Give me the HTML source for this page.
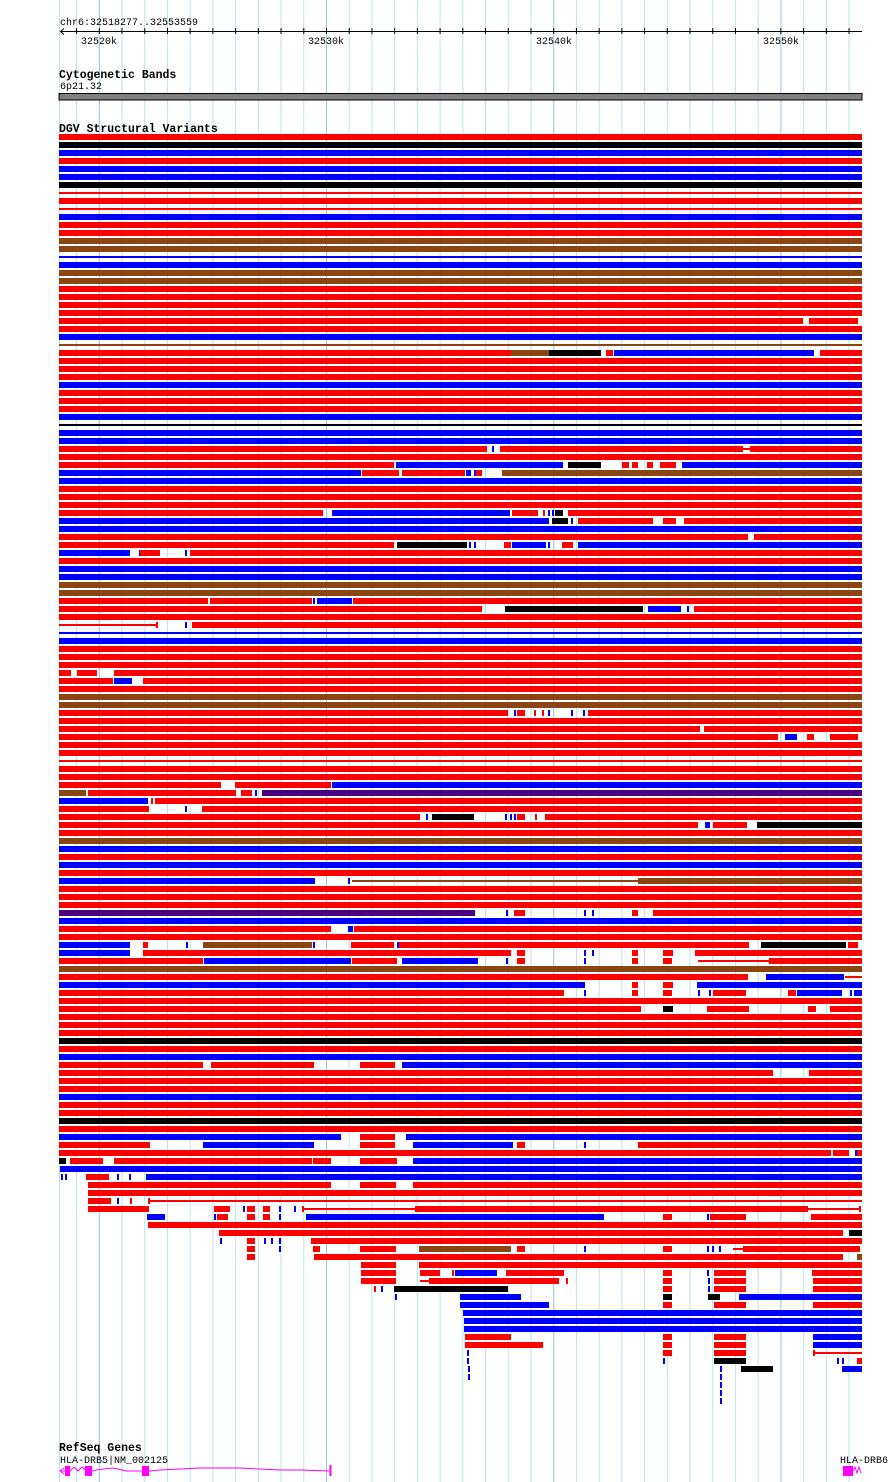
<!DOCTYPE html>
<html><head><meta charset="utf-8"><style>
html,body{margin:0;padding:0;background:#fff;}
svg{display:block;}
text{font-family:"Liberation Mono","DejaVu Sans Mono",monospace;}
</style></head><body>
<svg id="s" width="890" height="1482" viewBox="0 0 890 1482" xmlns="http://www.w3.org/2000/svg">
<g id="grid"></g>
<text x="60" y="25" font-size="10">chr6:32518277..32553559</text>
<line x1="60" y1="31.5" x2="862" y2="31.5" stroke="#000" stroke-width="1"/>
<path d="M64 28.5 L60.5 31.5 L64 34.5" fill="none" stroke="#000"/>
<g id="ticks"></g>
<text x="99" y="44" font-size="10" text-anchor="middle">32520k</text>
<text x="326" y="44" font-size="10" text-anchor="middle">32530k</text>
<text x="554" y="44" font-size="10" text-anchor="middle">32540k</text>
<text x="781" y="44" font-size="10" text-anchor="middle">32550k</text>
<text x="59" y="78" font-size="11.5" font-weight="bold">Cytogenetic Bands</text>
<text x="60" y="89" font-size="10">6p21.32</text>
<rect x="59" y="93.5" width="803" height="6.5" fill="#808080" stroke="#000" stroke-width="1"/>
<text x="59" y="132" font-size="11.5" font-weight="bold">DGV Structural Variants</text>
<g id="rows"></g>
<text x="59" y="1451" font-size="11.5" font-weight="bold">RefSeq Genes</text>
<text x="60" y="1463" font-size="10">HLA-DRB5|NM_002125</text>
<text x="840" y="1463" font-size="10">HLA-DRB6</text>
<g fill="#ff00ff" stroke="#ff00ff">
<path d="M60 1471 L64 1468 M60 1471 L64 1474" fill="none"/>
<polyline points="60,1471 70,1471 74,1467 78,1471 82,1467 86,1471 92,1471 96,1470 104,1469 112,1468 118,1469 126,1471 142,1471 149,1471 160,1470 180,1469 200,1468 220,1468 240,1468 260,1469 280,1470 300,1470 330,1471" fill="none" stroke-width="1"/>
<rect x="65" y="1466" width="5" height="10" stroke="none"/>
<rect x="85" y="1466" width="7" height="10" stroke="none"/>
<rect x="142" y="1466" width="7" height="10" stroke="none"/>
<rect x="329.5" y="1465" width="2" height="11" stroke="none"/>
<rect x="843" y="1466" width="10" height="10" stroke="none"/>
<polyline points="853,1471 855,1467 857,1473 859,1467 861,1473" fill="none"/>
</g>
</svg>
<script>
(function(){
var NS="http://www.w3.org/2000/svg";
function el(p,n,a){var e=document.createElementNS(NS,n);for(var k in a)e.setAttribute(k,a[k]);p.appendChild(e);return e;}
var g=document.getElementById("grid"),t=document.getElementById("ticks");
el(g,"line",{x1:59.5,y1:0,x2:59.5,y2:1482,stroke:"#b4e6f0"});
for(var i=-1;i<34;i++){var x=99.3+22.72*i;if(x<62||x>866)continue;var maj=(i%10==0);
el(g,"line",{x1:x,y1:0,x2:x,y2:1482,stroke:maj?"#8cc8e8":"#b4e6f0","stroke-width":1});
el(t,"line",{x1:x,y1:28,x2:x,y2:34,stroke:"#000"});}
var C={R:"#ff0000",B:"#0000ff",K:"#000000",N:"#8b4513",P:"#4b0082"};
var rows=[
"R","K","B","R","B","B","K","Rt","R","Rt","B","R","R","N","N","Bt","B","N","N","R","R","R","R",
"R59-803 R809-858","R","B","Nt",
"R59-511 N511-549 K549-601 R606-613 B614-814 R820-862",
"R","R","R","B","R","R","R","B","Kt","B","B",
"R59-487 b492 R500-508 R508-743 Rt743-750 R750-862",
"R",
"R59-394 B396-563 K568-601 R622-629 R632-638 R647-653 R660-676 B682-862",
"B59-361 R362-399 R402-465 B466-471 b474 R476-482 N502-862",
"B","R","R","R",
"R59-323 B332-510 R512-538 r543 b548 b552 K555-563 R568-862",
"B59-549 K552-568 b571 R578-653 R663-676 R684-862",
"B",
"R59-748 R754-862",
"R59-394 K397-467 b469 b474 R504-511 B512-546 b548 R562-573 B578-862",
"B59-130 b139 R140-160 b185 R190-862",
"R","B","B","N","N",
"R59-208 R210-312 b313 B317-352 R353-862",
"R59-482 K505-643 B648-681 b687 R694-862",
"R",
"Rt59-157 r156 b185 R192-862",
"Bt","B","R","R","R",
"R59-71 R77-97 R114-862",
"R59-113 B114-132 R143-862",
"R","N","N",
"R59-508 b514 R517-525 r534 r542 b548 b571 b583 R588-862",
"R",
"R59-700 R704-862",
"R59-778 B785-797 R807-814 R830-858",
"R","R","Rt","R","R",
"R59-221 R235-331 B332-862",
"N59-86 R88-236 R241-252 b255 P262-862",
"B59-148 r151 R155-862",
"R59-149 b185 R202-862",
"R59-420 b426 K432-474 b505 b510 b514 R517-525 r535 R545-862",
"R59-698 B705-710 R713-747 K757-862",
"R","N","B","R","B","R",
"B59-315 b348 Nt352-638 N638-862",
"R","R","R",
"P59-475 b506 R514-525 b584 b592 R632-638 R653-862",
"B",
"R59-331 B348-353 R354-862",
"R",
"B59-130 R143-148 b186 N203-312 b313 R351-394 b397 R399-749 K761-846 R848-858",
"B59-130 R143-511 R517-525 b584 b592 R632-638 R663-673 R695-862",
"R59-203 B204-351 R352-397 B402-478 b506 R517-525 b584 R632-638 R663-672 Rt698-769 R769-862",
"N",
"R59-748 B766-844 Rt845-862",
"B59-585 R632-638 R663-673 B697-862",
"R59-564 b584 R632-638 R663-672 b698 b709 R713-746 R788-796 B797-842 b850 B854-862",
"R",
"R59-641 K663-673 R707-749 R808-816 R830-862",
"R","R","R","K","R","B",
"R59-203 R211-314 R360-395 B402-862",
"R59-773 R809-862",
"R","R","B","R","R","K","R",
"B59-341 R360-395 B406-862",
"R59-150 B203-314 R360-395 B413-513 R517-525 b584 R638-862",
"R59-831 R833-849 b855 R857-862",
"K59-66 R70-103 R114-312 R313-331 R360-397 B413-862",
"B60-862",
"b61 b65 R86-109 b117 b129 B146-862",
"R88-331 R360-396 R413-862",
"R88-862",
"R88-111 b117 r130 r148 Rt148-862",
"R88-149 R214-230 b243 R247-255 R263-270 b279 b294 r302 Rt302-415 R415-808 Rt808-859 r859",
"B147-165 b214 R217-228 R247-255 R263-270 b279 B306-604 R663-672 b707 R710-746 R811-862",
"R148-862",
"R219-843 K849-862",
"b220 R247-255 b264 b271 b279 R311-862",
"R247-255 b279 R313-320 R360-396 N419-511 R517-525 b584 R663-672 b707 b712 b719 Rt733-743 R743-860",
"R247-255 R314-843 N857-862",
"R361-396 R419-862",
"R361-396 R420-440 r452 B455-497 R506-564 R663-672 b707 R714-746 R812-862",
"R361-396 Rt420-429 R429-559 r566 R663-672 b708 R714-746 R813-862",
"r374 b381 K394-508 R663-672 b708 R714-746 R813-862",
"b395 B460-521 K663-672 K708-720 B739-862",
"B460-549 R663-672 R714-746 R813-862",
"B463-862","B464-862","B464-862",
"R465-511 R663-672 R714-746 B813-862",
"R465-543 R663-672 R714-746 B813-862",
"b467 R663-672 R714-746 Rt813-862 r813",
"b467 b663 K714-746 b837 b842 R857-862",
"b468 b720 K741-773 B842-862",
"b468 b720","b720","b720","b720"
];
var rg=document.getElementById("rows");
for(var r=0;r<rows.length;r++){
 var y=134+8*r;var toks=rows[r].split(" ");
 for(var j=0;j<toks.length;j++){
  var m=/^([RBKNPrbk])(t?)(\d+)?(?:-(\d+))?$/.exec(toks[j]);if(!m)continue;
  var c=m[1],thin=m[2]=="t";
  if(c==c.toLowerCase()){var x=+m[3];el(rg,"rect",{x:x,y:y,width:2,height:6,fill:C[c.toUpperCase()]});continue;}
  var x1=m[3]?+m[3]:59,x2=m[4]?+m[4]:862;
  if(thin)el(rg,"rect",{x:x1,y:y+2,width:x2-x1,height:2,fill:C[c]});
  else el(rg,"rect",{x:x1,y:y,width:x2-x1,height:6,fill:C[c]});
 }
}
})();
</script>
</body></html>
